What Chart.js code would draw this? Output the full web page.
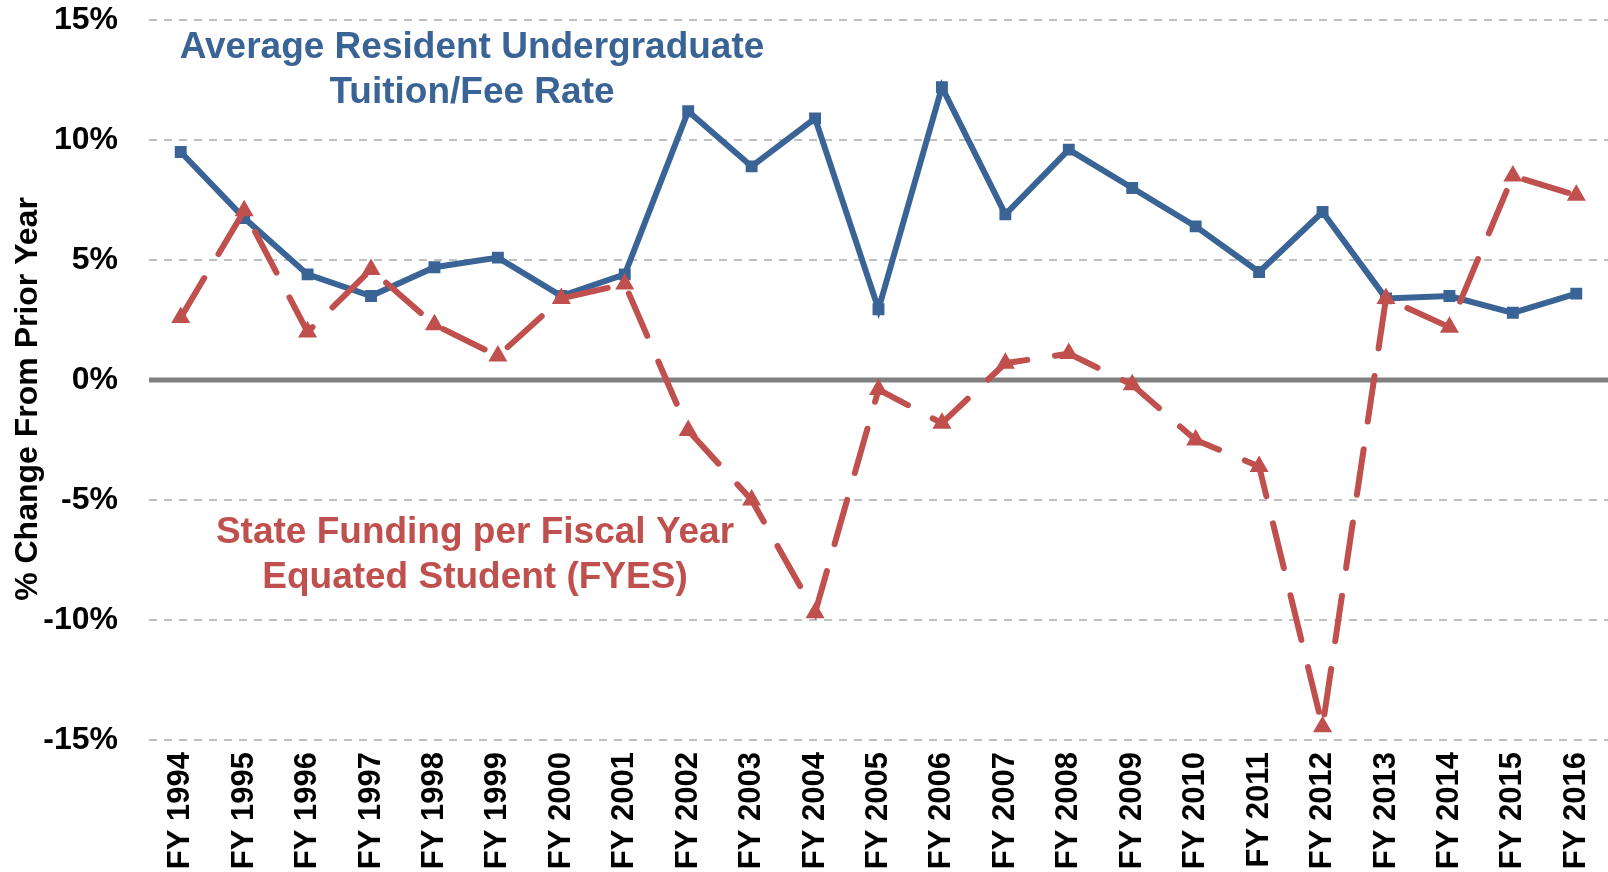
<!DOCTYPE html>
<html>
<head>
<meta charset="utf-8">
<script src="https://cdn.jsdelivr.net/npm/chart.js@4/dist/chart.umd.min.js"></script>
<style>
  body { margin: 0; background: #fff; }
  #wrap { width: 1608px; height: 872px; position: relative; }
</style>
</head>
<body>
<div id="wrap"><canvas id="chart"></canvas></div>
<script>
const years = [
  "FY 1994", "FY 1995", "FY 1996", "FY 1997", "FY 1998", "FY 1999", "FY 2000",
  "FY 2001", "FY 2002", "FY 2003", "FY 2004", "FY 2005", "FY 2006", "FY 2007",
  "FY 2008", "FY 2009", "FY 2010", "FY 2011", "FY 2012", "FY 2013", "FY 2014",
  "FY 2015", "FY 2016"
];
// % change from prior year
const tuition = [9.5, 6.75, 4.4, 3.5, 4.7, 5.1, 3.5, 4.4, 11.2, 8.9, 10.9, 2.95, 12.2,
                 6.9, 9.6, 8.0, 6.4, 4.5, 7.0, 3.4, 3.5, 2.8, 3.6];
const stateFunding = [2.6, 7.05, 2.0, 4.6, 2.3, 1.0, 3.4, 4.0, -2.1, -5.0, -9.7, -0.4, -1.8,
                      0.7, 1.1, -0.2, -2.5, -3.6, -14.45, 3.4, 2.2, 8.5, 7.7];
const yTicks = [-15, -10, -5, 0, 5, 10, 15];

const BLUE = "#3A6496";
const RED = "#C0504D";
const FONT = "'Liberation Sans', Arial, sans-serif";

// zero line + text labels drawn on the canvas
const extras = {
  id: "extras",
  beforeDatasetsDraw(chart) {
    const { ctx, chartArea, scales } = chart;
    const y0 = scales.y.getPixelForValue(0);
    ctx.save();
    ctx.strokeStyle = "#808080";
    ctx.lineWidth = 5;
    ctx.beginPath();
    ctx.moveTo(chartArea.left, y0);
    ctx.lineTo(chart.width, y0);
    ctx.stroke();
    ctx.restore();
  },
  afterDraw(chart) {
    const { ctx } = chart;
    ctx.save();
    ctx.font = "bold 37px " + FONT;
    ctx.textAlign = "center";
    ctx.textBaseline = "alphabetic";
    ctx.fillStyle = BLUE;
    ctx.fillText("Average Resident Undergraduate", 472, 58);
    ctx.fillText("Tuition/Fee Rate", 472, 103);
    ctx.fillStyle = RED;
    ctx.fillText("State Funding per Fiscal Year", 475, 543);
    ctx.fillText("Equated Student (FYES)", 475, 588);

    ctx.translate(28, 399);
    ctx.rotate(-Math.PI / 2);
    ctx.font = "bold 32px " + FONT;
    ctx.fillStyle = "#000";
    ctx.textBaseline = "middle";
    ctx.fillText("% Change From Prior Year", 0, 0);
    ctx.restore();
  }
};

new Chart(document.getElementById("chart"), {
  type: "line",
  data: {
    labels: years,
    datasets: [
      {
        label: "State Funding per FYES",
        data: stateFunding,
        borderColor: RED,
        backgroundColor: RED,
        borderWidth: 6,
        borderDash: [46, 28],
        borderCapStyle: "round",
        pointStyle: "triangle",
        pointRadius: 9,
        pointBorderWidth: 2,
        tension: 0,
        order: 0
      },
      {
        label: "Average Resident Undergraduate Tuition/Fee Rate",
        data: tuition,
        borderColor: BLUE,
        backgroundColor: BLUE,
        borderWidth: 6,
        pointStyle: "rect",
        pointRadius: 7,
        pointBorderWidth: 2,
        tension: 0,
        order: 1
      }
    ]
  },
  options: {
    responsive: true,
    maintainAspectRatio: false,
    animation: false,
    layout: { autoPadding: false, padding: { top: 20, right: 0, left: 0, bottom: 0 } },
    plugins: {
      legend: { display: false },
      tooltip: { enabled: false }
    },
    scales: {
      x: {
        offset: true,
        grid: { display: false, drawTicks: false },
        border: { display: false },
        ticks: {
          autoSkip: false,
          maxRotation: 90,
          minRotation: 90,
          padding: 12,
          color: "#000",
          font: { family: FONT, size: 31, weight: "bold" }
        },
        afterFit(scale) {
          scale.height = 132;
          scale.paddingLeft = 0;
          scale.paddingRight = 0;
        }
      },
      y: {
        min: -15,
        max: 15,
        afterBuildTicks(scale) { scale.ticks = yTicks.map(v => ({ value: v })); },
        grid: {
          drawTicks: false,
          lineWidth: 2,
          color: ctx => (ctx.tick && ctx.tick.value === 0 ? "rgba(0,0,0,0)" : "#C0C0C0")
        },
        border: { display: false, dash: [8, 7] },
        ticks: {
          padding: 31,
          color: "#000",
          font: { family: FONT, size: 32, weight: "bold" },
          callback: v => v + "%"
        },
        afterFit(scale) {
          scale.width = 149;
          scale.paddingTop = 0;
          scale.paddingBottom = 0;
        }
      }
    }
  },
  plugins: [extras]
});
</script>
</body>
</html>
